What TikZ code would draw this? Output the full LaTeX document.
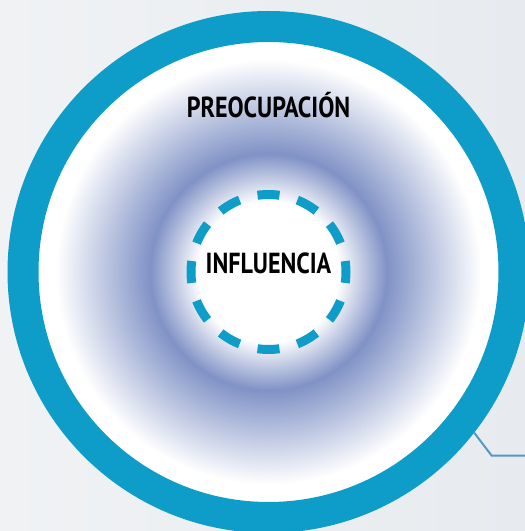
\documentclass[tikz,border=0pt]{standalone}
\usepackage{fontspec}
\setmainfont{PT Sans}
\newfontfamily\labelfont[FakeStretch=0.83]{PT Sans}
\usetikzlibrary{positioning}
\definecolor{ringblue}{RGB}{14,157,200}
\definecolor{haze}{RGB}{128,146,198}
\definecolor{linkblue}{RGB}{84,152,200}
\definecolor{bgleft}{RGB}{240,242,244}
\definecolor{bgright}{RGB}{231,235,239}
\pgfdeclareradialshading{zone}{\pgfpoint{0bp}{0bp}}{color(0bp)=(white); color(7.6bp)=(white); color(12.8bp)=(haze); color(23bp)=(white); color(50bp)=(white)}
\tikzstyle{halo} = [circle, shade, shading=zone, minimum size=462pt, inner sep=0pt, outer sep=0pt]
\tikzstyle{ring} = [circle, draw=ringblue, line width=31pt, minimum size=491pt, inner sep=0pt, outer sep=15.5pt]
\tikzstyle{dashring} = [circle, draw=ringblue, line width=9pt, minimum size=155pt, inner sep=0pt, dash pattern=on 22pt off 18.58pt, dash phase=11pt]
\tikzstyle{title} = [font=\labelfont\bfseries\fontsize{29}{29}\selectfont, text=black, anchor=base, inner sep=0pt]
\tikzstyle{tedge} = [draw=linkblue, line width=2pt]

\begin{document}
\begin{tikzpicture}

% background ================================
\clip (0,0) rectangle (525pt,531pt);
\shade[left color=bgleft, right color=bgright] (0,0) rectangle (525pt,531pt);

% circles
\coordinate (c) at (268.5pt,259pt);
\node[halo] (zone) at (c) {};
\node[ring] (preoc) at (c) {};
\node[dashring] (infl) at (c) {};

% labels
\node[title] (tpreoc) at (268.5pt,413.3pt) {PREOCUPACIÓN};
\node[title] (tinfl) at (268.5pt,257.7pt) {INFLUENCIA};

% connector
\coordinate (kink) at (491.7pt,75.3pt);
\coordinate (tail) at (525pt,75.3pt);
\path[tedge] (preoc.-38.8) -- (kink) -- (tail);

\end{tikzpicture}
\end{document}
